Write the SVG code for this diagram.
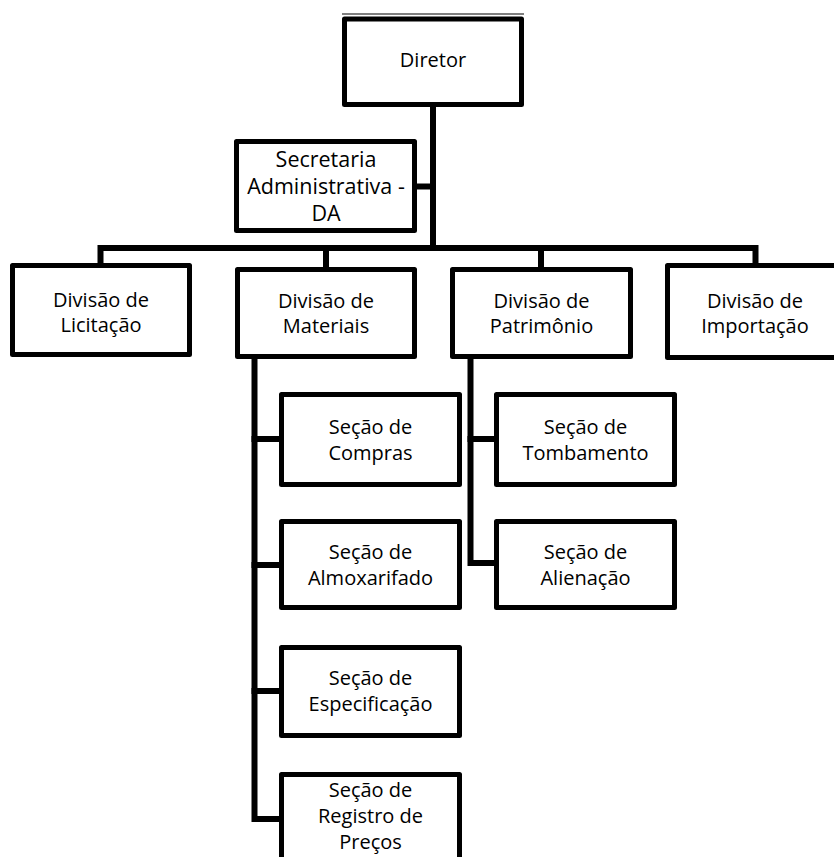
<svg xmlns="http://www.w3.org/2000/svg" width="834" height="857" viewBox="0 0 834 857">
  <style>
    .box { fill: #ffffff; stroke: #000000; stroke-width: 5; stroke-linejoin: round; }
    .wire { fill: none; stroke: #000000; stroke-width: 6; stroke-linecap: square; stroke-linejoin: miter; }
    .lbl { font-family: "Open Sans", "Noto Sans", "Liberation Sans", sans-serif; font-size: 20px; fill: #000000; text-anchor: middle; }
    .big { font-size: 21.5px; }
  </style>
  <rect width="834" height="857" fill="#ffffff"/>

  <!-- connectors -->
  <g id="connectors">
    <!-- director trunk and branch to the secretariat -->
    <path class="wire" d="M433 107 V248"/>
    <path class="wire" d="M417 186.5 H433"/>
    <!-- division bar and drops -->
    <path class="wire" d="M100.5 263 V248 H755.5 V263"/>
    <path class="wire" d="M326 248 V267"/>
    <path class="wire" d="M541 248 V267"/>
    <!-- Materiais sections -->
    <path class="wire" d="M254.5 359 V819 H281"/>
    <path class="wire" d="M254.5 439 H281"/>
    <path class="wire" d="M254.5 565 H281"/>
    <path class="wire" d="M254.5 691 H281"/>
    <!-- Patrimonio sections -->
    <path class="wire" d="M470.5 359 V563 H496"/>
    <path class="wire" d="M470.5 439 H496"/>
  </g>

  <g id="diretor">
    <line x1="342" y1="14" x2="524" y2="14" stroke="#555555" stroke-width="1.5"/>
    <rect class="box" x="344.5" y="19" width="177" height="85.5"/>
    <text class="lbl" x="433" y="67">Diretor</text>
  </g>

  <g id="secretaria">
    <rect class="box" x="236.5" y="141.5" width="178" height="89"/>
    <text class="lbl big" x="326" y="167">Secretaria</text>
    <text class="lbl big" x="326" y="194">Administrativa -</text>
    <text class="lbl big" x="326" y="221">DA</text>
  </g>

  <g id="div-licitacao">
    <rect class="box" x="12.5" y="265.5" width="177" height="89"/>
    <text class="lbl" x="101" y="307">Divisão de</text>
    <text class="lbl" x="101" y="332">Licitação</text>
  </g>

  <g id="div-materiais">
    <rect class="box" x="237.5" y="269.5" width="177" height="87"/>
    <text class="lbl" x="326" y="308">Divisão de</text>
    <text class="lbl" x="326" y="333">Materiais</text>
  </g>

  <g id="div-patrimonio">
    <rect class="box" x="452.5" y="269.5" width="178" height="87"/>
    <text class="lbl" x="541.5" y="308">Divisão de</text>
    <text class="lbl" x="541.5" y="333">Patrimônio</text>
  </g>

  <g id="div-importacao">
    <rect class="box" x="667.5" y="265.5" width="178" height="92"/>
    <text class="lbl" x="755" y="308">Divisão de</text>
    <text class="lbl" x="755" y="333">Importação</text>
  </g>

  <g id="sec-compras">
    <rect class="box" x="281.5" y="394.5" width="178" height="90"/>
    <text class="lbl" x="370.5" y="434">Seção de</text>
    <text class="lbl" x="370.5" y="460">Compras</text>
  </g>

  <g id="sec-almoxarifado">
    <rect class="box" x="281.5" y="521.5" width="178" height="86"/>
    <text class="lbl" x="370.5" y="559">Seção de</text>
    <text class="lbl" x="370.5" y="585">Almoxarifado</text>
  </g>

  <g id="sec-especificacao">
    <rect class="box" x="281.5" y="647.5" width="178" height="88"/>
    <text class="lbl" x="370.5" y="685">Seção de</text>
    <text class="lbl" x="370.5" y="711">Especificação</text>
  </g>

  <g id="sec-registro">
    <rect class="box" x="281.5" y="774.5" width="178" height="100"/>
    <text class="lbl" x="370.5" y="797">Seção de</text>
    <text class="lbl" x="370.5" y="823">Registro de</text>
    <text class="lbl" x="370.5" y="849">Preços</text>
  </g>

  <g id="sec-tombamento">
    <rect class="box" x="496.5" y="394.5" width="178" height="90"/>
    <text class="lbl" x="585.5" y="434">Seção de</text>
    <text class="lbl" x="585.5" y="460">Tombamento</text>
  </g>

  <g id="sec-alienacao">
    <rect class="box" x="496.5" y="521.5" width="178" height="86"/>
    <text class="lbl" x="585.5" y="559">Seção de</text>
    <text class="lbl" x="585.5" y="585">Alienação</text>
  </g>
</svg>
